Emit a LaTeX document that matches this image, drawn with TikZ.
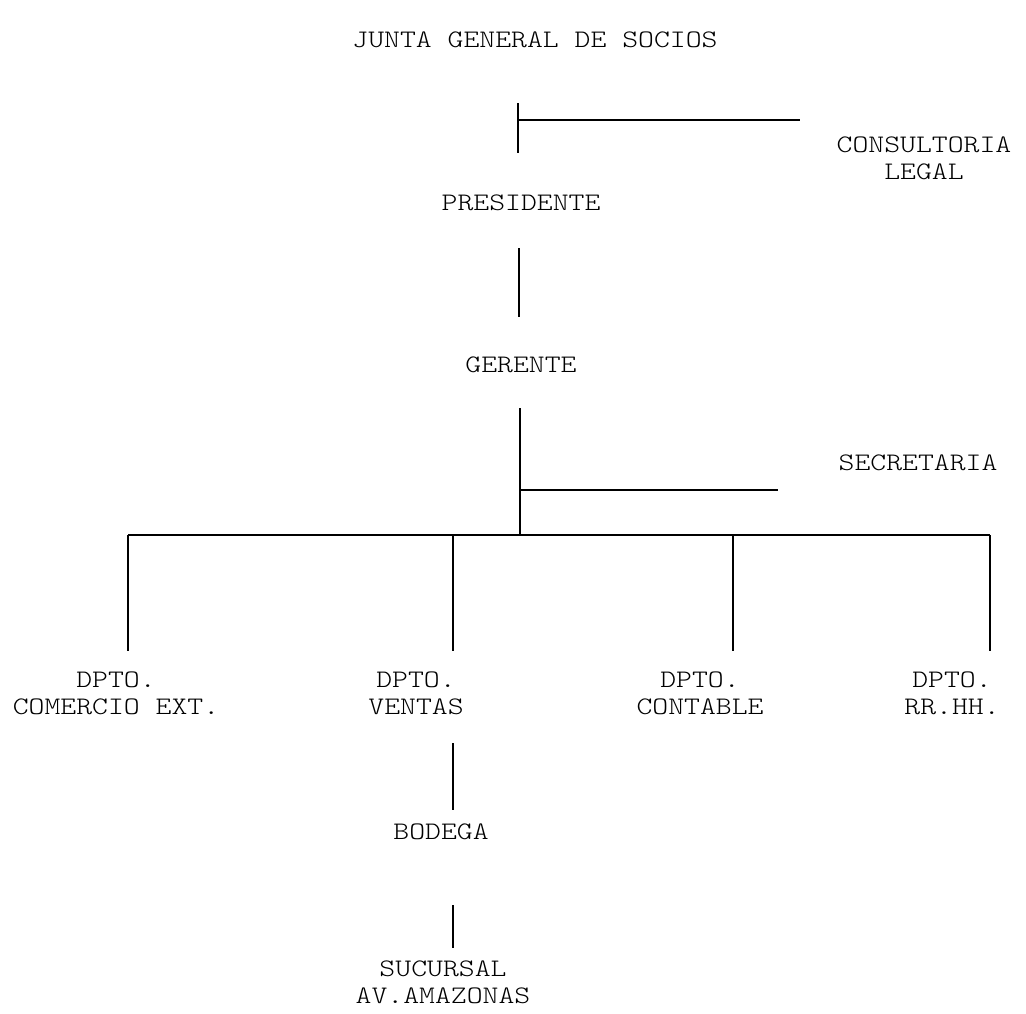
\documentclass[tikz,border=0pt]{standalone}
\usepackage{fontspec}
\setmonofont[FakeStretch=1.2]{Latin Modern Mono Light}
\tikzset{
  lbl/.style={font=\ttfamily\fontsize{25.2}{27}\selectfont, align=center, inner sep=0pt},
  ttl/.style={font=\ttfamily\fontsize{25.2}{28}\selectfont, align=center, inner sep=0pt},
  ln/.style={line width=1.6pt, line cap=butt}
}
\begin{document}
\begin{tikzpicture}[x=1pt,y=-1pt]
\useasboundingbox[fill=white] (0,0) rectangle (1026,1013);
% labels
\node[ttl] (junta) at (535,40) {JUNTA GENERAL DE SOCIOS};
\node[lbl] (legal) at (924,158) {CONSULTORIA\\LEGAL};
\node[lbl] (pres) at (521,203) {PRESIDENTE};
\node[lbl] (ger) at (521,365) {GERENTE};
\node[lbl] (secr) at (918,463) {SECRETARIA};
\node[lbl] (dce) at (116,693) {DPTO.\\COMERCIO EXT.};
\node[lbl] (dve) at (416,693) {DPTO.\\VENTAS};
\node[lbl] (dco) at (700,693) {DPTO.\\CONTABLE};
\node[lbl] (drh) at (952,693) {DPTO.\\RR.HH.};
\node[lbl] (bod) at (441,832) {BODEGA};
\node[lbl] (suc) at (443,982) {SUCURSAL\\AV.AMAZONAS};
% connector points
\coordinate (a1) at (518,103);
\coordinate (a2) at (518,153);
\coordinate (a3) at (518,120);
\coordinate (a4) at (800,120);
\coordinate (b1) at (519,248);
\coordinate (b2) at (519,317);
\coordinate (c1) at (520,408);
\coordinate (c2) at (520,535);
\coordinate (c3) at (520,490);
\coordinate (c4) at (778,490);
\coordinate (h1) at (128,535);
\coordinate (h2) at (990,535);
\coordinate (d1) at (128,651);
\coordinate (d2) at (453,651);
\coordinate (d3) at (733,651);
\coordinate (d4) at (990,651);
\coordinate (e1) at (453,743);
\coordinate (e2) at (453,810);
\coordinate (f1) at (453,905);
\coordinate (f2) at (453,948);
% connectors
\draw[ln] (a1) -- (a2);
\draw[ln] (a3) -- (a4);
\draw[ln] (b1) -- (b2);
\draw[ln] (c1) -- (c2);
\draw[ln] (c3) -- (c4);
\draw[ln] (h1) -- (h2);
\draw[ln] (h1) -- (d1);
\draw[ln] (d2 |- h1) -- (d2);
\draw[ln] (d3 |- h1) -- (d3);
\draw[ln] (h2) -- (d4);
\draw[ln] (e1) -- (e2);
\draw[ln] (f1) -- (f2);
\end{tikzpicture}
\end{document}
